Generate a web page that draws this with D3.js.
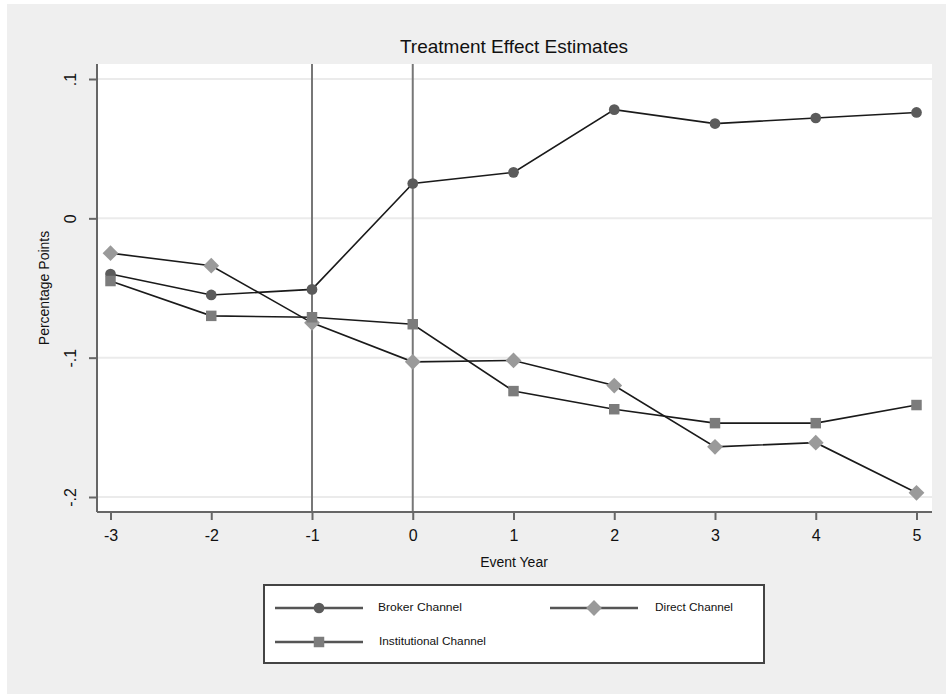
<!DOCTYPE html>
<html>
<head>
<meta charset="utf-8">
<script src="https://cdn.jsdelivr.net/npm/d3@7"></script>
<style>
  body { margin: 0; background: #fff; }
  text { font-family: "Liberation Sans", Arial, Helvetica, sans-serif; }
</style>
</head>
<body>
<div id="chart"></div>
<script>
var svgWidth = 946;
var svgHeight = 694;

// data
var years = [-3, -2, -1, 0, 1, 2, 3, 4, 5];
var broker = [-0.040, -0.055, -0.051, 0.025, 0.033, 0.078, 0.068, 0.072, 0.076];
var direct = [-0.025, -0.034, -0.075, -0.103, -0.102, -0.120, -0.164, -0.161, -0.197];
var institutional = [-0.045, -0.070, -0.071, -0.076, -0.124, -0.137, -0.147, -0.147, -0.134];
var yTicks = [0.1, 0, -0.1, -0.2];
var yTickLabels = [".1", "0", "-.1", "-.2"];
var refLines = [-1, 0];
var seriesNames = ["Broker Channel", "Direct Channel", "Institutional Channel"];

var plot = { left: 97, right: 932, top: 64, bottom: 512 };

var svg = d3.select("#chart")
    .append("svg")
    .attr("width", svgWidth)
    .attr("height", svgHeight);

// outer gray panel
svg.append("rect")
    .attr("x", 7).attr("y", 4)
    .attr("width", svgWidth - 7).attr("height", svgHeight - 4)
    .attr("fill", "#efefef");

// plot region
svg.append("rect")
    .attr("x", plot.left).attr("y", plot.top)
    .attr("width", plot.right - plot.left).attr("height", plot.bottom - plot.top)
    .attr("fill", "#ffffff");

var x = d3.scaleLinear().domain([-3, 5]).range([110.5, 916.5]);
var y = d3.scaleLinear().domain([-0.2, 0.1]).range([497, 79]);

// gridlines
svg.append("g")
    .selectAll("line")
    .data(yTicks)
    .enter()
    .append("line")
    .attr("x1", plot.left).attr("x2", plot.right)
    .attr("y1", d => y(d)).attr("y2", d => y(d))
    .attr("stroke", "#ebebeb")
    .attr("stroke-width", 2);

// vertical reference lines
svg.append("g")
    .selectAll("line")
    .data(refLines)
    .enter()
    .append("line")
    .attr("x1", d => x(d)).attr("x2", d => x(d))
    .attr("y1", plot.top).attr("y2", plot.bottom)
    .attr("stroke", "#777777")
    .attr("stroke-width", 2);

// y axis
var leftAxis = d3.axisLeft(y)
    .tickValues(yTicks)
    .tickSize(8)
    .tickPadding(0)
    .tickFormat((d, i) => yTickLabels[i]);

var yAxis = svg.append("g")
    .attr("transform", `translate(${plot.left}, 0)`)
    .call(leftAxis);
yAxis.select(".domain")
    .attr("d", `M0,${plot.top}V${plot.bottom}`)
    .attr("stroke", "#666")
    .attr("stroke-width", 2);
yAxis.selectAll(".tick line").attr("stroke", "#666").attr("stroke-width", 2);
yAxis.selectAll(".tick text")
    .attr("x", 0).attr("dy", null)
    .attr("transform", "translate(-25, 0) rotate(-90)")
    .attr("text-anchor", "middle")
    .attr("dominant-baseline", "middle")
    .attr("font-size", "16px")
    .attr("fill", "#111");

// x axis (plain hyphen for negatives, like the original)
var bottomAxis = d3.axisBottom(x)
    .tickValues(years)
    .tickSize(8)
    .tickPadding(10)
    .tickFormat(d => String(d));

var xAxis = svg.append("g")
    .attr("transform", `translate(0, ${plot.bottom})`)
    .call(bottomAxis);
xAxis.select(".domain")
    .attr("d", `M${plot.left},0H${plot.right}`)
    .attr("stroke", "#666")
    .attr("stroke-width", 2);
xAxis.selectAll(".tick line").attr("stroke", "#666").attr("stroke-width", 2);
xAxis.selectAll(".tick text")
    .attr("font-size", "16px")
    .attr("fill", "#111");

// titles
svg.append("text")
    .attr("x", 514).attr("y", 53)
    .attr("text-anchor", "middle")
    .attr("font-size", "19px")
    .attr("fill", "#111")
    .text("Treatment Effect Estimates");

svg.append("text")
    .attr("x", 514).attr("y", 567)
    .attr("text-anchor", "middle")
    .attr("font-size", "14px")
    .attr("fill", "#111")
    .text("Event Year");

svg.append("text")
    .attr("transform", "translate(49, 288) rotate(-90)")
    .attr("text-anchor", "middle")
    .attr("font-size", "14px")
    .attr("fill", "#111")
    .text("Percentage Points");

// squares rotated 45 degrees give the Stata diamond
var series = [
    { name: seriesNames[0], values: broker, shape: d3.symbolCircle, size: 90, rot: 0, fill: "#5b5b5b" },
    { name: seriesNames[1], values: direct, shape: d3.symbolSquare, size: 125, rot: 45, fill: "#9a9a9a" },
    { name: seriesNames[2], values: institutional, shape: d3.symbolSquare, size: 110, rot: 0, fill: "#7c7c7c" }
];

var line = d3.line()
    .x((d, i) => x(years[i]))
    .y(d => y(d));

series.forEach(function (s) {
    svg.append("path")
        .datum(s.values)
        .attr("d", line)
        .attr("fill", "none")
        .attr("stroke", "#1a1a1a")
        .attr("stroke-width", 1.6);
});

series.forEach(function (s) {
    svg.append("g")
        .selectAll("path")
        .data(s.values)
        .enter()
        .append("path")
        .attr("d", d3.symbol().type(s.shape).size(s.size))
        .attr("transform", (d, i) => `translate(${x(years[i])}, ${y(d)}) rotate(${s.rot})`)
        .attr("fill", s.fill);
});

// legend
var legend = svg.append("g");
legend.append("rect")
    .attr("x", 264).attr("y", 585)
    .attr("width", 500).attr("height", 78)
    .attr("fill", "#fff")
    .attr("stroke", "#444")
    .attr("stroke-width", 2);

var legendPos = [
    { lx: 275, ty: 608, tx: 378, tw: 84 },
    { lx: 550, ty: 608, tx: 655, tw: 78 },
    { lx: 275, ty: 642, tx: 379, tw: 107 }
];

series.forEach(function (s, i) {
    var p = legendPos[i];
    legend.append("line")
        .attr("x1", p.lx).attr("x2", p.lx + 88)
        .attr("y1", p.ty).attr("y2", p.ty)
        .attr("stroke", "#555")
        .attr("stroke-width", 2.5);
    legend.append("path")
        .attr("d", d3.symbol().type(s.shape).size(s.size))
        .attr("transform", `translate(${p.lx + 44}, ${p.ty}) rotate(${s.rot})`)
        .attr("fill", s.fill);
    legend.append("text")
        .attr("x", p.tx).attr("y", p.ty)
        .attr("dominant-baseline", "middle")
        .attr("font-size", "11px")
        .attr("textLength", p.tw)
        .attr("lengthAdjust", "spacingAndGlyphs")
        .attr("fill", "#111")
        .text(s.name);
});
</script>
</body>
</html>
